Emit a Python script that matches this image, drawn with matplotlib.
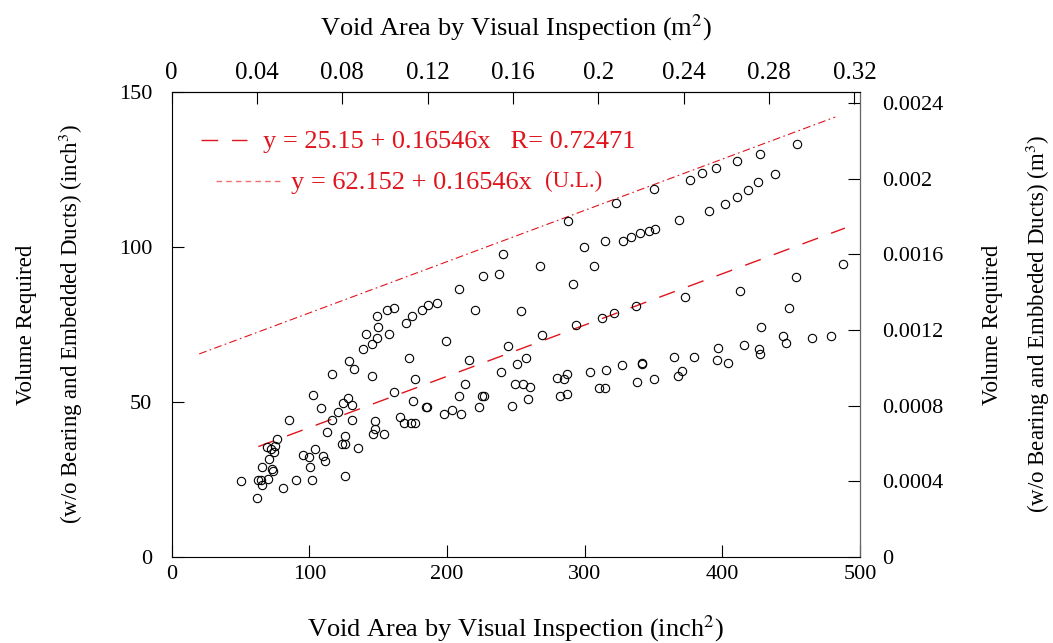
import numpy as np
import matplotlib
matplotlib.use('Agg')
import matplotlib.pyplot as plt

plt.rcParams['font.family'] = 'Liberation Serif'
plt.rcParams['mathtext.fontset'] = 'stix'

# void area (inch^2) and volume required (inch^3)
area = [50.2, 61.8, 62.5, 64.7, 65.7, 65.7, 70.2, 70.5, 69.5, 72.4, 74.1, 75.3, 76.8, 72.9, 73.6,
        80.7, 85.5, 90.1, 95.2, 100.0, 100.5, 102.0, 102.5, 104.4, 108.3, 109.7, 111.6, 112.9, 116.3,
        116.3, 121.1, 124.7, 128.3, 130.8, 131.2, 124.0, 125.9, 126.1, 125.7, 128.8, 132.5, 135.2,
        138.8, 141.0, 145.5, 145.8, 147.5, 147.5, 146.5, 149.4, 149.7, 149.4, 154.5, 156.4, 158.1,
        161.5, 161.7, 166.1, 168.6, 170.4, 172.6, 174.8, 175.1, 173.9, 176.5, 176.5, 182.1, 184.5,
        185.5, 186.2, 193.0, 197.6, 199.3, 203.6, 208.9, 210.2, 213.3, 216.2, 220.3, 223.2, 225.2,
        227.1, 239.4, 244.1, 247.4, 249.6, 250.6, 253.5, 240.9, 226.4, 237.8, 208.9, 267.8, 269.0,
        287.9, 291.7, 293.5, 299.3, 306.5, 312.3, 315.0, 321.1, 322.7, 327.6, 333.6, 337.0, 340.2,
        346.7, 350.8, 350.3, 368.3, 372.6, 376.7, 385.2, 390.5, 395.4, 402.1, 410.4, 410.8, 412.6,
        418.8, 425.9, 427.1, 428.3, 438.0, 443.8, 446.2, 448.6, 453.7, 454.4, 464.9, 479.1, 487.6,
        257.2, 255.4, 260.3, 258.8, 279.7, 285.2, 287.1, 282.3, 287.1, 304.1, 310.4, 314.5, 315.5,
        327.1, 338.2, 341.4, 341.8, 350.3, 365.1, 367.5, 370.9, 379.2, 395.9, 396.6, 403.8, 415.5,
        426.4, 427.3]
volume = [24.6, 19.0, 24.7, 24.7, 23.1, 29.0, 25.2, 31.7, 35.3, 34.7, 33.8, 35.8, 38.0, 28.2, 27.7,
          22.3, 44.3, 24.9, 32.8, 32.3, 29.1, 24.9, 52.2, 34.7, 48.0, 32.5, 31.0, 40.2, 44.0,
          59.0, 46.8, 49.7, 51.2, 49.0, 44.3, 36.4, 36.4, 38.9, 26.1, 63.2, 60.5, 35.1,
          67.2, 71.9, 58.5, 68.6, 43.8, 41.3, 39.6, 70.5, 74.1, 77.8, 39.5, 79.7, 71.9,
          53.1, 80.2, 45.1, 43.2, 75.4, 64.3, 77.8, 50.3, 43.2, 43.1, 57.4, 79.7, 48.3,
          48.3, 81.4, 81.8, 46.0, 69.8, 47.5, 51.8, 46.1, 55.8, 63.5, 79.6, 48.5, 51.9,
          52.0, 59.7, 68.0, 48.7, 55.8, 62.2, 79.4, 97.7, 90.6, 91.2, 86.5, 93.9, 71.5,
          108.4, 88.0, 74.7, 100.0, 93.9, 77.2, 102.0, 78.7, 114.3, 101.9, 103.2, 81.0, 104.6,
          105.2, 105.9, 118.6, 108.6, 83.8, 121.7, 123.8, 111.6, 125.6, 113.8, 127.7, 116.1, 85.8,
          118.5, 120.9, 130.0, 74.0, 123.5, 71.1, 69.1, 80.2, 90.4, 133.1, 70.5, 71.4, 94.5,
          64.3, 55.7, 54.7, 50.9, 57.7, 57.5, 59.1, 51.9, 52.6, 59.8, 54.5, 54.6, 60.3,
          62.0, 56.5, 62.2, 62.6, 57.4, 64.6, 58.3, 60.1, 64.6, 63.5, 67.3, 62.4, 68.4,
          67.0, 65.6]

# fit lines
fit_x = [63, 489]
ul_x = [20, 482]
b_fit, b_ul, slope = 25.15, 62.152, 0.16546

red = '#e0141c'

fig = plt.figure(figsize=(10.53, 6.43), dpi=100)
ax = fig.add_axes([0.163, 0.134, 0.6537, 0.723])

ax.plot(area, volume, 'o', mfc='none', mec='black', ms=6, mew=0.8, zorder=3)

fx = np.array(fit_x)
ax.plot(fx, b_fit + slope * fx, color=red, lw=1.0, linestyle=(0, (12, 10)))
ux = np.array(ul_x)
ax.plot(ux, b_ul + slope * ux, color=red, lw=0.8, linestyle=(0, (7, 3, 1.5, 3)))

ax.set_xlim(0, 500)
ax.set_ylim(0, 150)
ax.set_xticks([0, 100, 200, 300, 400, 500])
ax.set_yticks([0, 50, 100, 150])
ax.tick_params(direction='in', length=8.5, width=0.8, labelsize=16)
ax.tick_params(axis='x', pad=6)
ax.tick_params(axis='y', pad=14)
ax.spines['right'].set_color('#666666')

ax.set_xlabel('Void Area by Visual Inspection (inch$^2$)', fontsize=19, labelpad=21)
ax.set_ylabel('Volume Required\n(w/o Bearing and Embedded Ducts) (inch$^3$)',
              fontsize=16.5, labelpad=24, linespacing=1.95)

top = ax.secondary_xaxis('top', functions=(lambda v: v / 1550.0031, lambda v: v * 1550.0031))
top.set_xticks([0, 0.04, 0.08, 0.12, 0.16, 0.2, 0.24, 0.28, 0.32])
top.set_xticklabels(['0', '0.04', '0.08', '0.12', '0.16', '0.2', '0.24', '0.28', '0.32'])
top.tick_params(direction='in', length=8.5, width=0.8, labelsize=18, pad=6)
top.set_xlabel('Void Area by Visual Inspection (m$^2$)', fontsize=19, labelpad=19)

right = ax.secondary_yaxis('right', functions=(lambda v: v / 61023.744, lambda v: v * 61023.744))
right.set_yticks([0, 0.0004, 0.0008, 0.0012, 0.0016, 0.002, 0.0024])
right.set_yticklabels(['0', '0.0004', '0.0008', '0.0012', '0.0016', '0.002', '0.0024'])
right.tick_params(direction='in', length=8.5, width=0.8, labelsize=16, pad=16)
right.set_ylabel('Volume Required\n(w/o Bearing and Embbeded Ducts) (m$^3$)',
                 fontsize=16.5, labelpad=28, linespacing=1.95)

# legend drawn by hand
tr = ax.transAxes
ax.plot([0.042, 0.109], [0.897, 0.897], transform=tr, color=red, lw=1.0,
        linestyle=(0, (12, 10)))
ax.text(0.133, 0.892, 'y = 25.15 + 0.16546x   R= 0.72471', transform=tr, color=red,
        fontsize=19, va='center')
ax.plot([0.065, 0.16], [0.808, 0.808], transform=tr, color='#f07070', lw=1.0,
        linestyle=(0, (4, 3)))
ax.text(0.173, 0.805, 'y = 62.152 + 0.16546x', transform=tr, color=red,
        fontsize=19, va='center')
ax.text(0.542, 0.807, '(U.L.)', transform=tr, color=red, fontsize=16.5, va='center')

fig.savefig('out.png', dpi=100)
